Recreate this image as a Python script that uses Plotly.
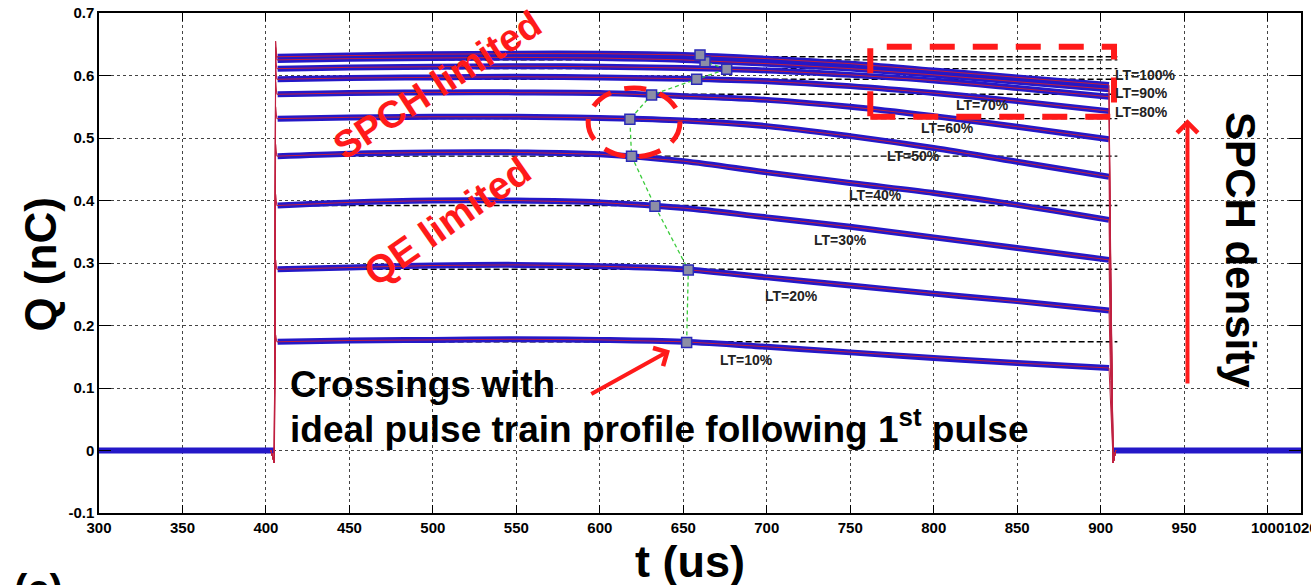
import plotly.graph_objects as go

# ---------------- data ----------------
t_pts = [407, 450, 500, 550, 600, 650, 700, 750, 800, 850, 905]

q_lt10 = [0.174, 0.176, 0.177, 0.178, 0.177, 0.174, 0.166, 0.157, 0.148, 0.140, 0.132]
q_lt20 = [0.290, 0.293, 0.296, 0.297, 0.295, 0.290, 0.277, 0.264, 0.251, 0.239, 0.224]
q_lt30 = [0.392, 0.397, 0.400, 0.400, 0.397, 0.388, 0.373, 0.358, 0.341, 0.324, 0.305]
q_lt40 = [0.471, 0.475, 0.477, 0.477, 0.474, 0.463, 0.445, 0.428, 0.412, 0.393, 0.369]
q_lt50 = [0.531, 0.533, 0.534, 0.534, 0.532, 0.528, 0.519, 0.503, 0.484, 0.462, 0.438]
q_lt60 = [0.570, 0.572, 0.573, 0.573, 0.572, 0.567, 0.561, 0.550, 0.535, 0.518, 0.498]
q_lt70 = [0.594, 0.596, 0.597, 0.598, 0.597, 0.595, 0.591, 0.583, 0.572, 0.559, 0.543]
q_lt80 = [0.611, 0.613, 0.614, 0.615, 0.614, 0.612, 0.608, 0.601, 0.592, 0.580, 0.566]
q_lt90 = [0.625, 0.627, 0.628, 0.629, 0.628, 0.625, 0.619, 0.611, 0.601, 0.590, 0.578]
q_lt100 = [0.630, 0.632, 0.634, 0.635, 0.635, 0.633, 0.627, 0.619, 0.608, 0.597, 0.585]

lt_names = ["LT=10%", "LT=20%", "LT=30%", "LT=40%", "LT=50%",
            "LT=60%", "LT=70%", "LT=80%", "LT=90%", "LT=100%"]

# ideal pulse-train level (first pulse) for each laser transmission
ideal_q = [0.174, 0.290, 0.392, 0.471, 0.531, 0.570, 0.594, 0.611, 0.625, 0.630]
ideal_t = [407, 910]

# rising / falling edges of the measured traces
rise_t = [403, 405, 405.8, 406.5]
fall_t = [906, 907.5, 909]
overshoot_q = [0.185, 0.305, 0.410, 0.490, 0.550, 0.590, 0.612, 0.628, 0.645, 0.655]
undershoot_q = -0.02

# baseline (no beam) before and after the pulse train
base_pre_t = [300, 405]
base_post_t = [907, 1020]
base_q = [0, 0]

# crossings with the ideal pulse-train profile
cross_t = [652, 653, 633, 619, 618, 631, 658, 676, 663, 660]
cross_q = [0.173, 0.289, 0.391, 0.471, 0.530, 0.569, 0.594, 0.610, 0.622, 0.633]

x_tickvals = [300, 350, 400, 450, 500, 550, 600, 650, 700, 750, 800, 850, 900, 950, 1000, 1020]
x_ticktext = ["300", "350", "400", "450", "500", "550", "600", "650", "700", "750",
              "800", "850", "900", "950", "1000", "1020"]
y_ticks = [-0.1, 0, 0.1, 0.2, 0.3, 0.4, 0.5, 0.6, 0.7]
y_ticktext = ["-0.1", "0", "0.1", "0.2", "0.3", "0.4", "0.5", "0.6", "0.7"]

curves = [q_lt10, q_lt20, q_lt30, q_lt40, q_lt50, q_lt60, q_lt70, q_lt80, q_lt90, q_lt100]

# ---------------- styles ----------------
FONT = "Arial, Liberation Sans, sans-serif"
BLUE = "#2418c8"
RED = "#c02040"
ARED = "#ff1a1a"

fig = go.Figure()

# ideal (reference) dashed black lines
for lvl in ideal_q:
    fig.add_trace(go.Scatter(x=ideal_t, y=[lvl, lvl], mode="lines",
                             line=dict(color="black", width=1.4, dash="6px,3px"),
                             hoverinfo="skip", showlegend=False))

# baselines
for bt in (base_pre_t, base_post_t):
    fig.add_trace(go.Scatter(x=bt, y=base_q, mode="lines",
                             line=dict(color=BLUE, width=6),
                             showlegend=False))

# blue measured curves
for name, q in zip(lt_names, curves):
    fig.add_trace(go.Scatter(x=t_pts, y=q, mode="lines", name=name,
                             line=dict(color=BLUE, width=6, shape="spline"),
                             showlegend=False))

# thin red traces (including edges)
for q, ov in zip(curves, overshoot_q):
    xs = rise_t + t_pts + fall_t
    ys = [0, undershoot_q, ov, q[0]] + q + [q[-1] * 0.5, undershoot_q, 0]
    fig.add_trace(go.Scatter(x=xs, y=ys, mode="lines",
                             line=dict(color=RED, width=1),
                             hoverinfo="skip", showlegend=False))

# crossings
fig.add_trace(go.Scatter(x=cross_t, y=cross_q, mode="lines+markers",
                         line=dict(color="#3ccc3c", width=1.3, dash="4px,3px"),
                         marker=dict(symbol="square", size=10, color="#8c8ea6",
                                     line=dict(color="#2a2ab8", width=1.5)),
                         showlegend=False))

# ---------------- annotations ----------------
ann = []
lt_label_pos = {
    "LT=10%": (688, 0.1455),
    "LT=20%": (715, 0.2475),
    "LT=30%": (744, 0.3375),
    "LT=40%": (765, 0.409),
    "LT=50%": (788, 0.4705),
    "LT=60%": (808, 0.5155),
    "LT=70%": (829, 0.5525),
    "LT=80%": (907.5, 0.5416),
    "LT=90%": (907.5, 0.572),
    "LT=100%": (907.5, 0.601),
}
for name in lt_names:
    x, y = lt_label_pos[name]
    right = name in ("LT=80%", "LT=90%", "LT=100%")
    ann.append(dict(x=x, y=y, xref="x", yref="y", text="<b>%s</b>" % name,
                    showarrow=False, xanchor="left" if right else "center",
                    yanchor="middle", font=dict(family=FONT, size=14, color="#222")))

ann += [
    dict(x=502.5, y=0.585, xref="x", yref="y", text="<b>SPCH limited</b>", textangle=-33,
         showarrow=False, font=dict(family=FONT, size=38, color=ARED)),
    dict(x=508.5, y=0.366, xref="x", yref="y", text="<b>QE limited</b>", textangle=-35,
         showarrow=False, font=dict(family=FONT, size=39, color=ARED)),
    dict(x=413, y=0.106, xref="x", yref="y", text="<b>Crossings with</b>",
         xanchor="left", yanchor="middle", showarrow=False,
         font=dict(family=FONT, size=37, color="black")),
    dict(x=413, y=0.038, xref="x", yref="y",
         text="<b>ideal pulse train profile following 1<sup>st</sup> pulse</b>",
         xanchor="left", yanchor="middle", showarrow=False,
         font=dict(family=FONT, size=37, color="black")),
    dict(x=642, y=0.160, ax=594, ay=0.089, xref="x", yref="y", axref="x", ayref="y",
         text="", showarrow=True, arrowhead=4, arrowsize=1, arrowwidth=4, arrowcolor=ARED),
    dict(x=952, y=0.530, ax=952, ay=0.105, xref="x", yref="y", axref="x", ayref="y",
         text="", showarrow=True, arrowhead=4, arrowsize=1, arrowwidth=4, arrowcolor=ARED),
    dict(x=0.950, y=0.526, xref="paper", yref="paper", text="<b>SPCH density</b>",
         xanchor="center", yanchor="middle",
         textangle=90, showarrow=False, font=dict(family=FONT, size=42, color="black")),
    dict(x=-0.049, y=0.497, xref="paper", yref="paper", text="<b>Q (nC)</b>",
         xanchor="center", yanchor="middle",
         textangle=-90, showarrow=False, font=dict(family=FONT, size=44, color="black")),
    dict(x=0.4917, y=-0.096, xref="paper", yref="paper", text="<b>t (us)</b>",
         xanchor="center", showarrow=False, yanchor="middle",
         font=dict(family=FONT, size=45, color="black")),
    dict(x=-0.050, y=-0.104, xref="paper", yref="paper", text="<b>(c)</b>", xanchor="center",
         yanchor="top", showarrow=False, font=dict(family=FONT, size=40, color="black")),
]

shapes = [
    dict(type="rect", xref="x", yref="y", x0=762, x1=908, y0=0.534, y1=0.646,
         line=dict(color=ARED, width=6, dash="25px,18px")),
    dict(type="circle", xref="x", yref="y", x0=593, x1=648, y0=0.470, y1=0.580,
         line=dict(color=ARED, width=5, dash="22px,14px")),
]

fig.update_layout(
    width=1311, height=585,
    margin=dict(l=99, r=10, t=13, b=72),
    paper_bgcolor="white", plot_bgcolor="white",
    showlegend=False,
    annotations=ann, shapes=shapes,
    font=dict(family=FONT),
)
fig.update_xaxes(range=[300, 1020], tickvals=x_tickvals, ticktext=x_ticktext,
                 ticklabeloverflow="allow", tickangle=0, automargin=False,
                 showgrid=True, gridcolor="#444", griddash="dot", gridwidth=1,
                 showline=True, linecolor="black", linewidth=1.5, mirror="ticks",
                 ticks="inside", ticklen=8, tickcolor="black", zeroline=False,
                 tickfont=dict(family=FONT, size=15, color="black", weight="bold"))
fig.update_yaxes(range=[-0.1, 0.7], tickvals=y_ticks, ticktext=y_ticktext,
                 ticklabeloverflow="allow", automargin=False,
                 showgrid=True, gridcolor="#444", griddash="dot", gridwidth=1,
                 showline=True, linecolor="black", linewidth=1.5, mirror="ticks",
                 ticks="inside", ticklen=12, tickcolor="black", zeroline=False,
                 tickfont=dict(family=FONT, size=15, color="black", weight="bold"))

post = ("var gd=document.getElementById('{plot_id}');"
        "gd.style.position='fixed';gd.style.top='0px';gd.style.left='0px';"
        "document.body.style.margin='0px';document.body.style.overflow='hidden';")
fig.write_html("out.html", post_script=post, config={"displayModeBar": False})
